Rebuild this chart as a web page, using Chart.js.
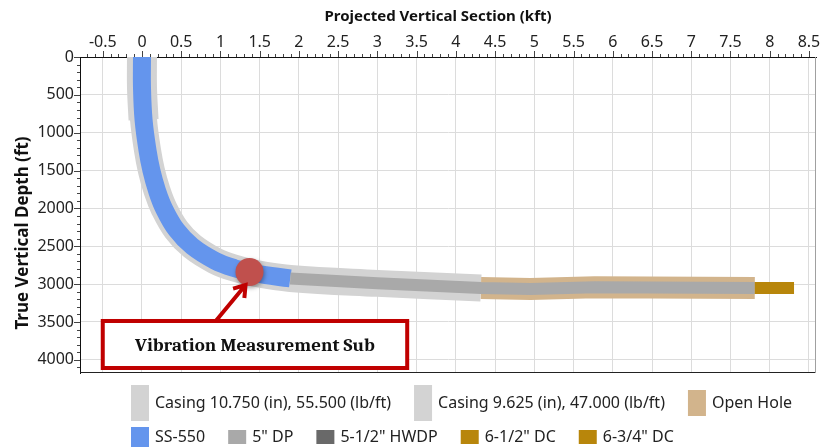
<!DOCTYPE html>
<html lang="en">
<head>
<meta charset="UTF-8">
<title>Wellbore Profile</title>
<script src="https://cdn.jsdelivr.net/npm/chart.js"></script>
<style>
  html, body { margin: 0; padding: 0; background: #fff; }
  #wrap { position: relative; width: 830px; height: 447px; }
</style>
</head>
<body>
<div id="wrap"><canvas id="wellChart"></canvas></div>
<script>
// well path centre line (vertical section in kft, true vertical depth in ft)
const pathVS  = [0, 0, 0.02, 0.07, 0.12, 0.19, 0.28, 0.44, 0.64, 0.93, 1.18, 1.45, 1.89, 3.0, 4.32, 4.95, 5.77, 7.81, 8.31];
const pathTVD = [0, 400, 830, 1230, 1500, 1760, 2000, 2285, 2500, 2690, 2790, 2860, 2925, 2990, 3052, 3066, 3042, 3052, 3052];

// hole sections + string components, as index ranges along the path (null = not visible)
const componentLabels = ['Casing 10.750 (in), 55.500 (lb/ft)', 'Casing 9.625 (in), 47.000 (lb/ft)', 'Open Hole',
                         'SS-550', '5" DP', '5-1/2" HWDP', '6-1/2" DC', '6-3/4" DC'];
const componentFrom = [0, 0, 14, 0, 12, null, 17, null];
const componentTo   = [2, 14, 17, 12, 17, null, 18, null];

// sensor position
const sensorVS  = [1.37];
const sensorTVD = [2840];
const sensorLabel = 'Vibration Measurement Sub';

// styling
const componentColors = ['#d3d3d3', '#d3d3d3', '#d2b48c', '#6495ed', '#a9a9a9', '#696969', '#b8860b', '#b8860b'];
const componentWidths = [30, 27, 22, 18, 12, 12, 12, 12];
const componentTension = [0.4, 0.4, 0, 0.4, 0, 0, 0, 0];
const legendBoxHeights = [36, 36, 26, 20, 14, 14, 14, 14];
const legendRows = [[0, 1, 2], [3, 4, 5, 6, 7]];
const calloutBox = { x1: -0.5, x2: 3.38, y1: 3487, y2: 4108 };
const calloutArrow = { x1: 0.94, y1: 3487, x2: 1.32, y2: 3012 };

const FONT = '"Segoe UI", "Noto Sans", sans-serif';

function isMajor(v, step) {
    return Math.abs(v / step - Math.round(v / step)) < 1e-6;
}

function segment(from, to) {
    if (from === null) return [];
    const pts = [];
    for (let i = from; i <= to; i++) pts.push({ x: pathVS[i], y: pathTVD[i] });
    return pts;
}

const datasets = componentLabels.map((label, i) => ({
    label: label,
    data: segment(componentFrom[i], componentTo[i]),
    showLine: true,
    borderColor: componentColors[i],
    backgroundColor: componentColors[i],
    borderWidth: componentWidths[i],
    borderCapStyle: 'butt',
    pointRadius: 0,
    tension: componentTension[i],
    clip: 0,
    order: componentLabels.length - i
}));

datasets.push({
    label: sensorLabel,
    data: sensorVS.map((v, i) => ({ x: v, y: sensorTVD[i] })),
    pointRadius: 14,
    pointBackgroundColor: '#c0504d',
    pointBorderWidth: 0,
    showLine: false,
    order: 0
});
const sensorIndex = datasets.length - 1;

const wellPlugin = {
    id: 'wellPlugin',
    beforeDatasetDraw(chart, args) {
        if (args.index === sensorIndex) {
            const ctx = chart.ctx;
            ctx.save();
            ctx.shadowColor = 'rgba(0,0,0,0.35)';
            ctx.shadowBlur = 4;
            ctx.shadowOffsetX = 1;
            ctx.shadowOffsetY = 2;
        }
    },
    afterDatasetDraw(chart, args) {
        if (args.index === sensorIndex) chart.ctx.restore();
    },
    afterDatasetsDraw(chart) {
        const ctx = chart.ctx, a = chart.chartArea;
        const xs = chart.scales.x, ys = chart.scales.y;
        ctx.save();

        // frame
        ctx.lineWidth = 1;
        ctx.strokeStyle = '#222';
        ctx.beginPath();
        ctx.moveTo(a.left, Math.round(a.bottom) - 0.5);
        ctx.lineTo(a.right, Math.round(a.bottom) - 0.5);
        ctx.stroke();
        ctx.strokeStyle = '#a0a0a0';
        ctx.beginPath();
        ctx.moveTo(Math.round(a.right) - 0.5, a.top);
        ctx.lineTo(Math.round(a.right) - 0.5, a.bottom);
        ctx.stroke();

        // major/minor tick marks
        ctx.strokeStyle = '#444';
        ctx.beginPath();
        xs.ticks.forEach(t => {
            const px = Math.round(xs.getPixelForValue(t.value)) + 0.5;
            const len = isMajor(t.value, 0.5) ? 6 : 3;
            ctx.moveTo(px, a.top);
            ctx.lineTo(px, a.top - len);
        });
        ys.ticks.forEach(t => {
            const py = Math.round(ys.getPixelForValue(t.value)) + 0.5;
            const len = isMajor(t.value, 500) ? 6 : 3;
            ctx.moveTo(a.left, py);
            ctx.lineTo(a.left - len, py);
        });
        ctx.stroke();

        // callout box + arrow
        const bx1 = xs.getPixelForValue(calloutBox.x1), bx2 = xs.getPixelForValue(calloutBox.x2);
        const by1 = ys.getPixelForValue(calloutBox.y1), by2 = ys.getPixelForValue(calloutBox.y2);
        const ax1 = xs.getPixelForValue(calloutArrow.x1), ay1 = ys.getPixelForValue(calloutArrow.y1);
        const ax2 = xs.getPixelForValue(calloutArrow.x2), ay2 = ys.getPixelForValue(calloutArrow.y2);
        ctx.strokeStyle = '#c00000';
        ctx.lineWidth = 4;
        ctx.lineCap = 'butt';
        ctx.beginPath();
        ctx.moveTo(ax1, ay1);
        ctx.lineTo(ax2, ay2);
        const ang = Math.atan2(ay2 - ay1, ax2 - ax1);
        const head = 13;
        ctx.moveTo(ax2 - head * Math.cos(ang - 0.6), ay2 - head * Math.sin(ang - 0.6));
        ctx.lineTo(ax2, ay2);
        ctx.lineTo(ax2 - head * Math.cos(ang + 0.6), ay2 - head * Math.sin(ang + 0.6));
        ctx.stroke();

        ctx.fillStyle = '#fff';
        ctx.shadowColor = 'rgba(0,0,0,0.25)';
        ctx.shadowBlur = 3;
        ctx.fillRect(bx1, by1, bx2 - bx1, by2 - by1);
        ctx.shadowColor = 'transparent';
        ctx.strokeRect(bx1, by1, bx2 - bx1, by2 - by1);
        ctx.fillStyle = '#111';
        ctx.font = 'bold 19px Cambria, "Liberation Serif", "DejaVu Serif", serif';
        ctx.textAlign = 'center';
        ctx.textBaseline = 'middle';
        ctx.fillText(sensorLabel, (bx1 + bx2) / 2, (by1 + by2) / 2 + 1);
        ctx.restore();
    },
    afterDraw(chart) {
        const ctx = chart.ctx;
        ctx.save();
        // axis titles
        ctx.fillStyle = '#111';
        ctx.font = 'bold 15px ' + FONT;
        ctx.textAlign = 'center';
        ctx.textBaseline = 'middle';
        ctx.fillText('Projected Vertical Section (kft)', 438, 17);
        ctx.font = 'bold 17px ' + FONT;
        ctx.translate(23, 233);
        ctx.rotate(-Math.PI / 2);
        ctx.fillText('True Vertical Depth (ft)', 0, 0);
        ctx.setTransform(1, 0, 0, 1, 0, 0);

        // legend
        ctx.font = '16px ' + FONT;
        ctx.textAlign = 'left';
        const rowY = [403, 437];
        legendRows.forEach((row, r) => {
            let x = 131;
            row.forEach(i => {
                const h = legendBoxHeights[i];
                ctx.fillStyle = componentColors[i];
                ctx.fillRect(x, rowY[r] - h / 2, 18, h);
                x += 24;
                ctx.fillStyle = '#222';
                ctx.fillText(componentLabels[i], x, rowY[r]);
                x += ctx.measureText(componentLabels[i]).width + 23;
            });
        });
        ctx.restore();
    }
};

new Chart(document.getElementById('wellChart'), {
    type: 'scatter',
    data: { datasets: datasets },
    options: {
        responsive: true,
        maintainAspectRatio: false,
        animation: false,
        events: [],
        layout: { padding: { left: 0, top: 0, right: 7, bottom: 74 } },
        plugins: { legend: { display: false }, tooltip: { enabled: false } },
        scales: {
            x: {
                type: 'linear',
                position: 'top',
                min: -0.79,
                max: 8.59,
                afterFit(scale) { scale.height = 57; scale.paddingLeft = 0; scale.paddingRight = 0; },
                ticks: {
                    stepSize: 0.1,
                    includeBounds: false,
                    autoSkip: false,
                    maxRotation: 0,
                    minRotation: 0,
                    padding: 5,
                    color: '#222',
                    font: { family: FONT, size: 16 },
                    callback: v => isMajor(v, 0.5) ? String(Math.round(v * 10) / 10) : ''
                },
                grid: {
                    drawTicks: false,
                    color: c => c.tick && isMajor(c.tick.value, 0.5) ? '#dcdcdc' : 'rgba(0,0,0,0)'
                },
                border: { display: true, color: '#111' }
            },
            y: {
                type: 'linear',
                reverse: true,
                min: 0,
                max: 4174,
                afterFit(scale) { scale.width = 80; scale.paddingTop = 0; scale.paddingBottom = 0; },
                ticks: {
                    stepSize: 100,
                    includeBounds: false,
                    autoSkip: false,
                    padding: 6,
                    color: '#222',
                    font: { family: FONT, size: 16 },
                    callback: v => isMajor(v, 500) ? String(Math.round(v)) : ''
                },
                grid: {
                    drawTicks: false,
                    color: c => c.tick && isMajor(c.tick.value, 500) ? '#dcdcdc' : 'rgba(0,0,0,0)'
                },
                border: { display: true, color: '#111' }
            }
        }
    },
    plugins: [wellPlugin]
});
</script>
</body>
</html>
